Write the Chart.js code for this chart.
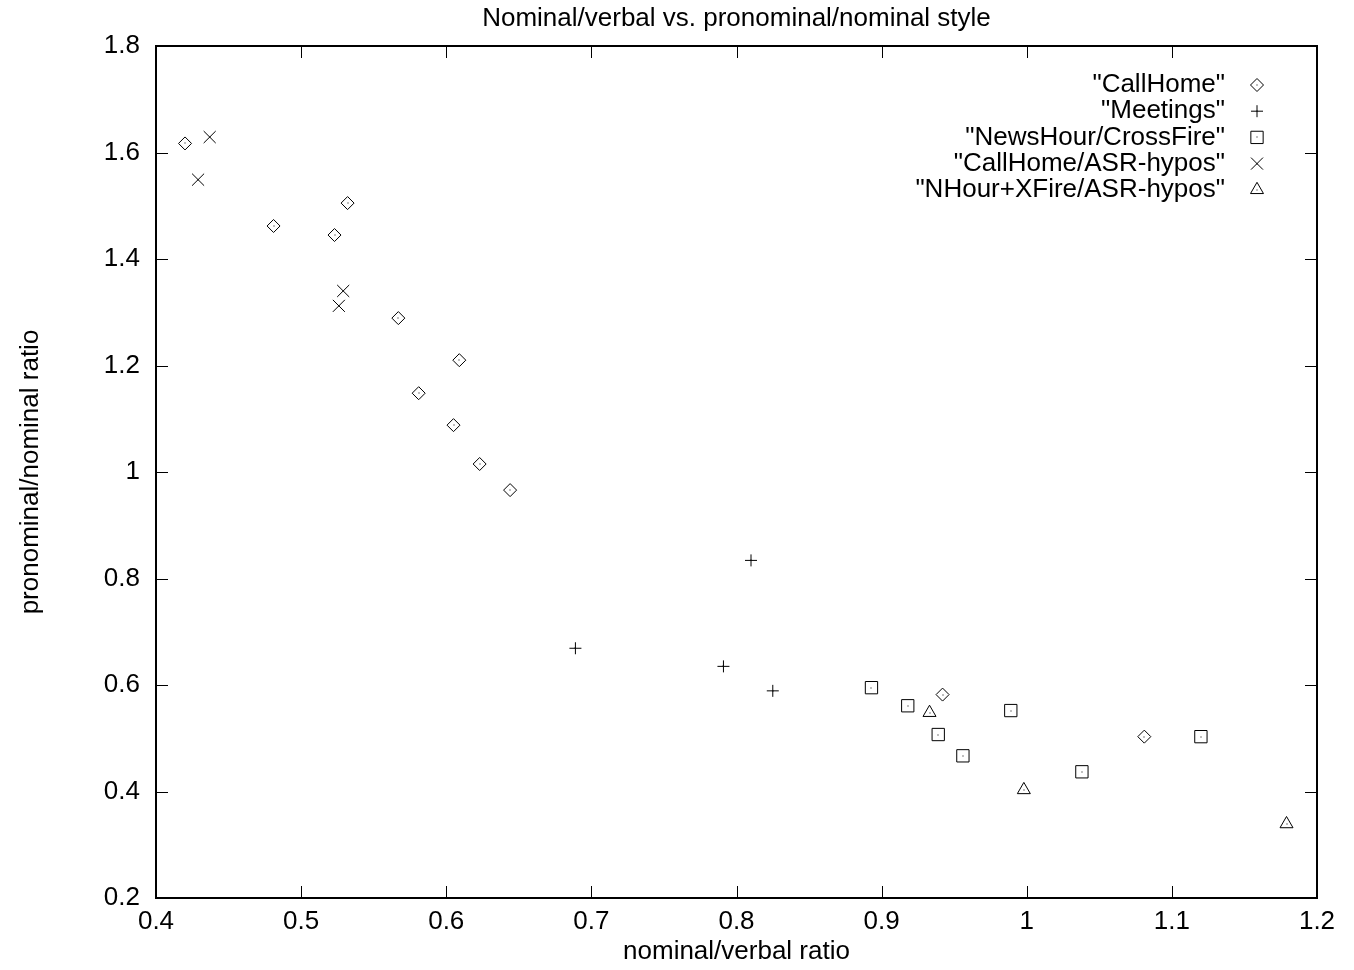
<!DOCTYPE html>
<html>
<head>
<meta charset="utf-8">
<title>Nominal/verbal vs. pronominal/nominal style</title>
<script src="https://cdn.jsdelivr.net/npm/chart.js"></script>
<style>
  body { margin: 0; background: #fff; }
  #wrap { width: 1354px; height: 970px; }
</style>
</head>
<body>
<div id="wrap"><canvas id="chart" width="1354" height="970"></canvas></div>
<script>
// values
var callHomeX = [0.420, 0.481, 0.532, 0.523, 0.567, 0.609, 0.581, 0.605, 0.623, 0.644, 0.942, 1.081];
var callHomeY = [1.617, 1.462, 1.505, 1.445, 1.289, 1.210, 1.148, 1.088, 1.015, 0.966, 0.582, 0.503];
var meetingsX = [0.810, 0.689, 0.791, 0.825];
var meetingsY = [0.834, 0.669, 0.635, 0.589];
var newsHourX = [0.893, 0.918, 0.939, 0.956, 0.989, 1.038, 1.120];
var newsHourY = [0.595, 0.561, 0.507, 0.467, 0.552, 0.437, 0.503];
var callAsrX = [0.437, 0.429, 0.529, 0.526];
var callAsrY = [1.629, 1.549, 1.340, 1.312];
var nhAsrX = [0.933, 0.998, 1.179];
var nhAsrY = [0.548, 0.403, 0.339];

var xTicks = [0.4, 0.5, 0.6, 0.7, 0.8, 0.9, 1.0, 1.1, 1.2];
var xTickLabels = ['0.4', '0.5', '0.6', '0.7', '0.8', '0.9', '1', '1.1', '1.2'];
var yTicks = [0.2, 0.4, 0.6, 0.8, 1.0, 1.2, 1.4, 1.6, 1.8];
var yTickLabels = ['0.2', '0.4', '0.6', '0.8', '1', '1.2', '1.4', '1.6', '1.8'];

var FONT = '"Liberation Sans", Arial, Helvetica, sans-serif';
var FONT_SIZE = 26;

function pts(xs, ys) {
    return xs.map(function (x, i) { return { x: x, y: ys[i] }; });
}

function set(label, xs, ys, style, r) {
    return {
        label: label,
        data: pts(xs, ys),
        pointStyle: style,
        pointRadius: r,
        pointBorderWidth: 1,
        pointBorderColor: '#000',
        pointBackgroundColor: 'rgba(0,0,0,0)',
        showLine: false
    };
}

// gnuplot style frame: box round the plot, ticks pointing in, mirrored
var framePlugin = {
    id: 'frame',
    afterDatasetsDraw: function (chart) {
        var ctx = chart.ctx, a = chart.chartArea;
        var xs = chart.scales.x, ys = chart.scales.y;
        ctx.save();
        // the little dot in the middle of each mark
        ctx.fillStyle = '#000';
        chart.data.datasets.forEach(function (ds, i) {
            chart.getDatasetMeta(i).data.forEach(function (el) {
                ctx.fillRect(Math.round(el.x) - 0.5, Math.round(el.y) - 0.5, 1, 1);
            });
        });
        ctx.strokeStyle = '#000';
        ctx.lineWidth = 1;
        ctx.beginPath();
        xTicks.forEach(function (v) {
            var px = Math.round(xs.getPixelForValue(v)) + 0.5;
            ctx.moveTo(px, a.bottom); ctx.lineTo(px, a.bottom - 12);
            ctx.moveTo(px, a.top); ctx.lineTo(px, a.top + 12);
        });
        yTicks.forEach(function (v) {
            var py = Math.round(ys.getPixelForValue(v)) + 0.5;
            ctx.moveTo(a.left, py); ctx.lineTo(a.left + 12, py);
            ctx.moveTo(a.right, py); ctx.lineTo(a.right - 12, py);
        });
        ctx.stroke();
        ctx.lineWidth = 2;
        ctx.strokeRect(a.left, a.top, a.right - a.left, a.bottom - a.top);
        ctx.restore();
    }
};

// key in the top right corner: text first, mark after it
var keyPlugin = {
    id: 'key',
    afterDraw: function (chart) {
        var ctx = chart.ctx, a = chart.chartArea;
        ctx.save();
        ctx.font = FONT_SIZE + 'px ' + FONT;
        ctx.textAlign = 'right';
        ctx.textBaseline = 'middle';
        chart.data.datasets.forEach(function (ds, i) {
            var y = a.top + 39 + i * 26.2;
            var mx = a.right - 60;
            ctx.fillStyle = '#000';
            ctx.fillText(ds.label, a.right - 92, y);
            ctx.strokeStyle = '#000';
            ctx.lineWidth = 1;
            ctx.fillStyle = 'rgba(0,0,0,0)';
            Chart.helpers.drawPoint(ctx, {
                pointStyle: ds.pointStyle, radius: ds.pointRadius, borderWidth: 1, rotation: 0
            }, mx, y);
            ctx.fillStyle = '#000';
            ctx.fillRect(mx - 0.5, Math.round(y) - 0.5, 1, 1);
        });
        ctx.restore();
    }
};

Chart.defaults.font.family = FONT;
Chart.defaults.font.size = FONT_SIZE;
Chart.defaults.color = '#000';

new Chart(document.getElementById('chart'), {
    type: 'scatter',
    data: {
        datasets: [
            set('"CallHome"', callHomeX, callHomeY, 'rectRot', 6.5),
            set('"Meetings"', meetingsX, meetingsY, 'cross', 6),
            set('"NewsHour/CrossFire"', newsHourX, newsHourY, 'rect', 8.7),
            set('"CallHome/ASR-hypos"', callAsrX, callAsrY, 'crossRot', 8.5),
            set('"NHour+XFire/ASR-hypos"', nhAsrX, nhAsrY, 'triangle', 7.5)
        ]
    },
    options: {
        responsive: false,
        animation: false,
        events: [],
        layout: { padding: { left: 0, right: 37, top: 0, bottom: 0 } },
        scales: {
            x: {
                type: 'linear',
                min: 0.4,
                max: 1.2,
                afterBuildTicks: function (s) {
                    s.ticks = xTicks.map(function (v) { return { value: v }; });
                },
                afterFit: function (s) { s.height = 72; },
                grid: { display: false, drawTicks: false },
                border: { display: false },
                ticks: {
                    padding: 8,
                    maxRotation: 0,
                    autoSkip: false,
                    callback: function (v, i) { return xTickLabels[i]; }
                },
                title: {
                    display: true,
                    text: 'nominal/verbal ratio',
                    padding: { top: 0, bottom: 2.4 }
                }
            },
            y: {
                type: 'linear',
                min: 0.2,
                max: 1.8,
                afterBuildTicks: function (s) {
                    s.ticks = yTicks.map(function (v) { return { value: v }; });
                },
                afterFit: function (s) { s.width = 156; },
                grid: { display: false, drawTicks: false },
                border: { display: false },
                ticks: {
                    padding: 16,
                    autoSkip: false,
                    callback: function (v, i) { return yTickLabels[i]; }
                },
                title: {
                    display: true,
                    text: 'pronominal/nominal ratio',
                    padding: { top: 15, bottom: 0 }
                }
            }
        },
        plugins: {
            legend: { display: false },
            tooltip: { enabled: false },
            title: {
                display: true,
                text: 'Nominal/verbal vs. pronominal/nominal style',
                fullSize: false,
                color: '#000',
                font: { size: FONT_SIZE, weight: 'normal' },
                padding: { top: 3.4, bottom: 11.4 }
            }
        }
    },
    plugins: [framePlugin, keyPlugin]
});
</script>
</body>
</html>
